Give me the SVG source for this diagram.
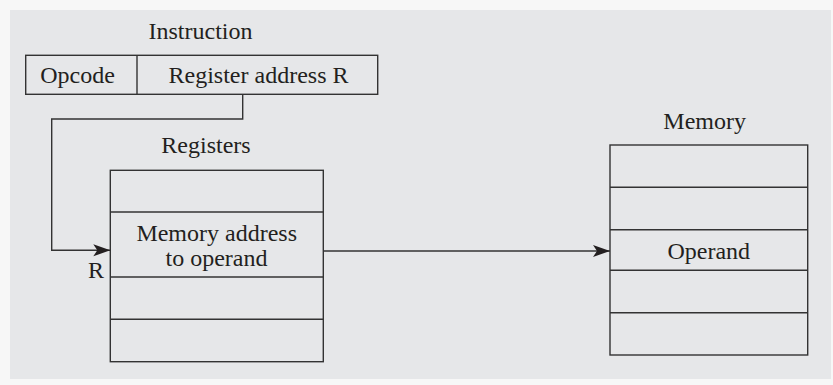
<svg xmlns="http://www.w3.org/2000/svg" width="833" height="385" viewBox="0 0 833 385">
<defs>
<style>
.box{fill:none;stroke:#333;stroke-width:1.4}
.ln{fill:none;stroke:#333;stroke-width:1.4}
text{font-family:"Liberation Serif","Times New Roman",serif;font-size:24px;fill:#231f20;text-anchor:middle}
</style>
<marker id="arr" markerUnits="userSpaceOnUse" markerWidth="18" markerHeight="14" refX="17" refY="7" orient="auto">
<path d="M0,1 L17,7 L0,13 L4,7 Z" fill="#231f20"/>
</marker>
</defs>
<rect x="0" y="0" width="833" height="385" fill="#f7f7f7"/>
<rect x="10" y="10" width="821" height="369" fill="#e6e7e9"/>
<g id="instruction">
<text x="200.5" y="39">Instruction</text>
<rect class="box" x="25.7" y="55.3" width="352" height="39"/>
<line class="ln" x1="137" y1="55.3" x2="137" y2="94.3"/>
<text x="77.5" y="82.5">Opcode</text>
<text x="258.5" y="82.5">Register address R</text>
</g>
<g id="registers">
<text x="206" y="153">Registers</text>
<rect class="box" x="110.3" y="170.3" width="213" height="191.4"/>
<line class="ln" x1="110.3" y1="212" x2="323.3" y2="212"/>
<line class="ln" x1="110.3" y1="277" x2="323.3" y2="277"/>
<line class="ln" x1="110.3" y1="319.3" x2="323.3" y2="319.3"/>
<text x="216.7" y="241">Memory address</text>
<text x="216.5" y="266">to operand</text>
<text x="96" y="277.5">R</text>
</g>
<g id="memory">
<text x="704.7" y="129.3">Memory</text>
<rect class="box" x="610" y="145" width="197.7" height="210"/>
<line class="ln" x1="610" y1="187.3" x2="807.7" y2="187.3"/>
<line class="ln" x1="610" y1="229.7" x2="807.7" y2="229.7"/>
<line class="ln" x1="610" y1="270.3" x2="807.7" y2="270.3"/>
<line class="ln" x1="610" y1="312.7" x2="807.7" y2="312.7"/>
<text x="708.8" y="259.3">Operand</text>
</g>
<g id="connectors">
<polyline class="ln" points="242.7,94.3 242.7,119 51.7,119 51.7,250.3 110.3,250.3" marker-end="url(#arr)"/>
<line class="ln" x1="323.3" y1="251" x2="610" y2="251" marker-end="url(#arr)"/>
</g>
</svg>
